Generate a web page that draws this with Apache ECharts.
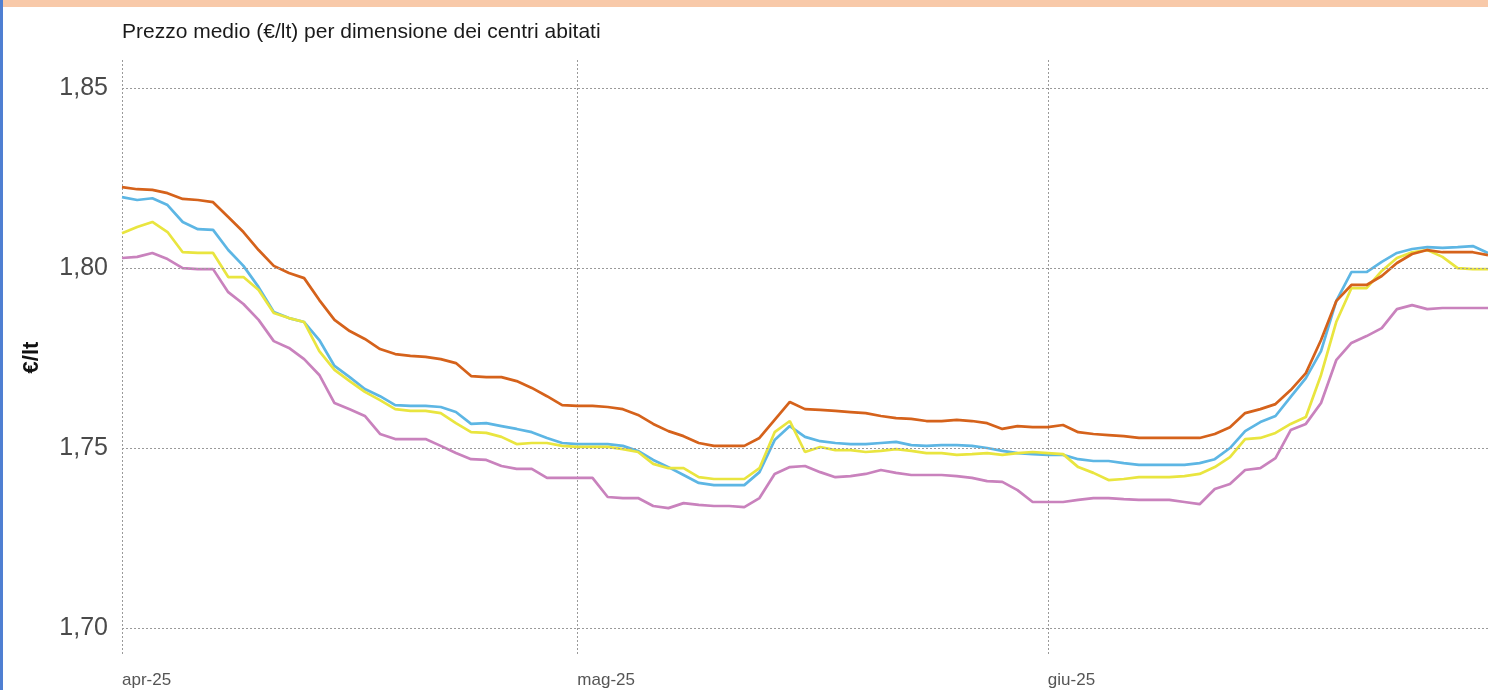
<!DOCTYPE html>
<html>
<head>
<meta charset="utf-8">
<script src="https://cdn.jsdelivr.net/npm/echarts@6/dist/echarts.min.js"></script>
<style>
html,body{margin:0;padding:0;background:#fff;}
#chart{width:1488px;height:690px;}
</style>
</head>
<body>
<div id="chart"></div>
<script>
// ---- data ----
const startDate = '2025-04-01';
const dayCount = 91; // 1 Apr .. 30 Jun 2025
const tickDates = ['2025-04-01', '2025-05-01', '2025-06-01'];
const tickLabels = ['apr-25', 'mag-25', 'giu-25'];
const yTicks = [1.70, 1.75, 1.80, 1.85];

const orange = [1.8225,1.8219,1.8217,1.8208,1.8192,1.8189,1.8183,1.8142,1.8100,1.8050,
1.8006,1.7986,1.7972,1.7911,1.7856,1.7825,1.7803,1.7775,1.7761,1.7756,
1.7753,1.7747,1.7736,1.7700,1.7697,1.7697,1.7686,1.7667,1.7644,1.7619,
1.7617,1.7617,1.7614,1.7608,1.7592,1.7567,1.7547,1.7533,1.7514,1.7506,
1.7506,1.7506,1.7528,1.7578,1.7628,1.7608,1.7606,1.7603,1.7600,1.7597,
1.7589,1.7583,1.7581,1.7575,1.7575,1.7578,1.7575,1.7569,1.7553,1.7561,
1.7558,1.7558,1.7564,1.7544,1.7539,1.7536,1.7533,1.7528,1.7528,1.7528,
1.7528,1.7528,1.7539,1.7558,1.7597,1.7608,1.7622,1.7661,1.7708,1.7800,
1.7908,1.7953,1.7953,1.7978,1.8014,1.8039,1.8050,1.8044,1.8044,1.8044,1.8036];

const blue = [1.8197,1.8189,1.8194,1.8175,1.8128,1.8108,1.8106,1.8050,1.8006,1.7947,
1.7878,1.7861,1.7850,1.7800,1.7728,1.7697,1.7664,1.7644,1.7619,1.7617,
1.7617,1.7614,1.7600,1.7567,1.7569,1.7561,1.7553,1.7544,1.7528,1.7514,
1.7511,1.7511,1.7511,1.7506,1.7492,1.7467,1.7447,1.7425,1.7403,1.7397,
1.7397,1.7397,1.7433,1.7522,1.7561,1.7531,1.7519,1.7514,1.7511,1.7511,
1.7514,1.7517,1.7508,1.7506,1.7508,1.7508,1.7506,1.7500,1.7492,1.7486,
1.7483,1.7481,1.7481,1.7469,1.7464,1.7464,1.7458,1.7453,1.7453,1.7453,
1.7453,1.7458,1.7469,1.7500,1.7547,1.7572,1.7589,1.7642,1.7694,1.7769,
1.7908,1.7989,1.7989,1.8017,1.8042,1.8053,1.8058,1.8056,1.8058,1.8061,1.8042];

const yellow = [1.8097,1.8114,1.8128,1.8100,1.8044,1.8042,1.8042,1.7975,1.7975,1.7939,
1.7875,1.7861,1.7850,1.7769,1.7717,1.7686,1.7656,1.7633,1.7608,1.7603,
1.7603,1.7597,1.7569,1.7544,1.7542,1.7531,1.7511,1.7514,1.7514,1.7506,
1.7503,1.7503,1.7503,1.7497,1.7489,1.7456,1.7444,1.7444,1.7419,1.7414,
1.7414,1.7414,1.7444,1.7544,1.7575,1.7489,1.7503,1.7494,1.7494,1.7489,
1.7492,1.7497,1.7492,1.7486,1.7486,1.7481,1.7483,1.7486,1.7481,1.7486,
1.7489,1.7486,1.7483,1.7447,1.7431,1.7411,1.7414,1.7419,1.7419,1.7419,
1.7422,1.7428,1.7447,1.7475,1.7525,1.7528,1.7542,1.7567,1.7586,1.7703,
1.7850,1.7944,1.7944,1.7992,1.8028,1.8044,1.8050,1.8031,1.8000,1.7997,1.7997];

const pink = [1.8028,1.8031,1.8042,1.8025,1.8000,1.7997,1.7997,1.7933,1.7900,1.7856,
1.7797,1.7778,1.7747,1.7703,1.7625,1.7608,1.7589,1.7539,1.7525,1.7525,
1.7525,1.7506,1.7486,1.7469,1.7467,1.7450,1.7442,1.7442,1.7417,1.7417,
1.7417,1.7417,1.7364,1.7361,1.7361,1.7339,1.7333,1.7347,1.7342,1.7339,
1.7339,1.7336,1.7361,1.7428,1.7447,1.7450,1.7433,1.7419,1.7422,1.7428,
1.7439,1.7431,1.7425,1.7425,1.7425,1.7422,1.7417,1.7408,1.7406,1.7383,
1.7350,1.7350,1.7350,1.7356,1.7361,1.7361,1.7358,1.7356,1.7356,1.7356,
1.7350,1.7344,1.7386,1.7400,1.7439,1.7444,1.7472,1.7550,1.7567,1.7625,
1.7744,1.7792,1.7811,1.7833,1.7886,1.7897,1.7886,1.7889,1.7889,1.7889,1.7889];

// ---- build categories ----
const categories = [];
(function () {
  const d = new Date(startDate + 'T00:00:00Z');
  for (let i = 0; i < dayCount; i++) {
    categories.push(d.toISOString().slice(0, 10));
    d.setUTCDate(d.getUTCDate() + 1);
  }
})();

const fmtY = v => v.toFixed(2).replace('.', ',');
const isTick = (idx, val) => tickDates.indexOf(categories[idx]) >= 0;
const FONT = 'Liberation Sans, Arial, sans-serif';

const chart = echarts.init(document.getElementById('chart'), null, {renderer: 'canvas'});
const gridLine = {color: '#9a9a9a', width: 1, type: [2, 2]};

function lineSeries(name, data, color, withMark) {
  const s = {
    name: name, type: 'line', data: data, symbol: 'none', smooth: false,
    lineStyle: {color: color, width: 2.7}, itemStyle: {color: color},
    emphasis: {disabled: true}, silent: true, animation: false
  };
  if (withMark) {
    s.markLine = {
      silent: true, symbol: 'none', animation: false,
      label: {show: false},
      lineStyle: gridLine,
      data: yTicks.map(v => ({yAxis: v}))
    };
    s.z = 1;
  }
  return s;
}

chart.setOption({
  backgroundColor: '#ffffff',
  animation: false,
  title: {
    text: 'Prezzo medio (€/lt) per dimensione dei centri abitati',
    left: 117, top: 17,
    textStyle: {fontFamily: FONT, fontSize: 21, fontWeight: 'normal', color: '#1a1a1a'}
  },
  graphic: [
    {type: 'rect', left: 0, top: 0, shape: {width: 1488, height: 7}, style: {fill: '#f8c9a9'}, silent: true},
    {type: 'rect', left: 0, top: 0, shape: {width: 3, height: 690}, style: {fill: '#4f7fd2'}, silent: true}
  ],
  grid: {left: 122, right: 0, top: 60, bottom: 35, containLabel: false},
  xAxis: {
    type: 'category', data: categories, boundaryGap: false,
    axisLine: {show: false}, axisTick: {show: false},
    axisLabel: {
      interval: isTick, hideOverlap: false, align: 'left', margin: 17,
      fontFamily: FONT, fontSize: 17, color: '#555',
      formatter: v => { const k = tickDates.indexOf(v); return k >= 0 ? tickLabels[k] : ''; }
    },
    splitLine: {show: true, interval: isTick, lineStyle: gridLine}
  },
  yAxis: {
    type: 'value', min: 1.6925, max: 1.8578,
    name: '€/lt', nameLocation: 'middle', nameGap: 79, nameRotate: 90,
    nameTextStyle: {fontFamily: FONT, fontSize: 22, fontWeight: 'bold', color: '#111'},
    axisLine: {show: false}, axisTick: {show: false},
    splitLine: {show: false},
    axisLabel: {
      customValues: yTicks, margin: 14,
      fontFamily: FONT, fontSize: 25, color: '#4a4a4a',
      formatter: v => fmtY(v)
    }
  },
  series: [
    lineSeries('Centri piccoli', pink, '#c982bd', true),
    lineSeries('Centri medi', blue, '#5db6e4', false),
    lineSeries('Centri medio-grandi', yellow, '#e9e53f', false),
    lineSeries('Centri grandi', orange, '#d5621b', false)
  ]
});
</script>
</body>
</html>
